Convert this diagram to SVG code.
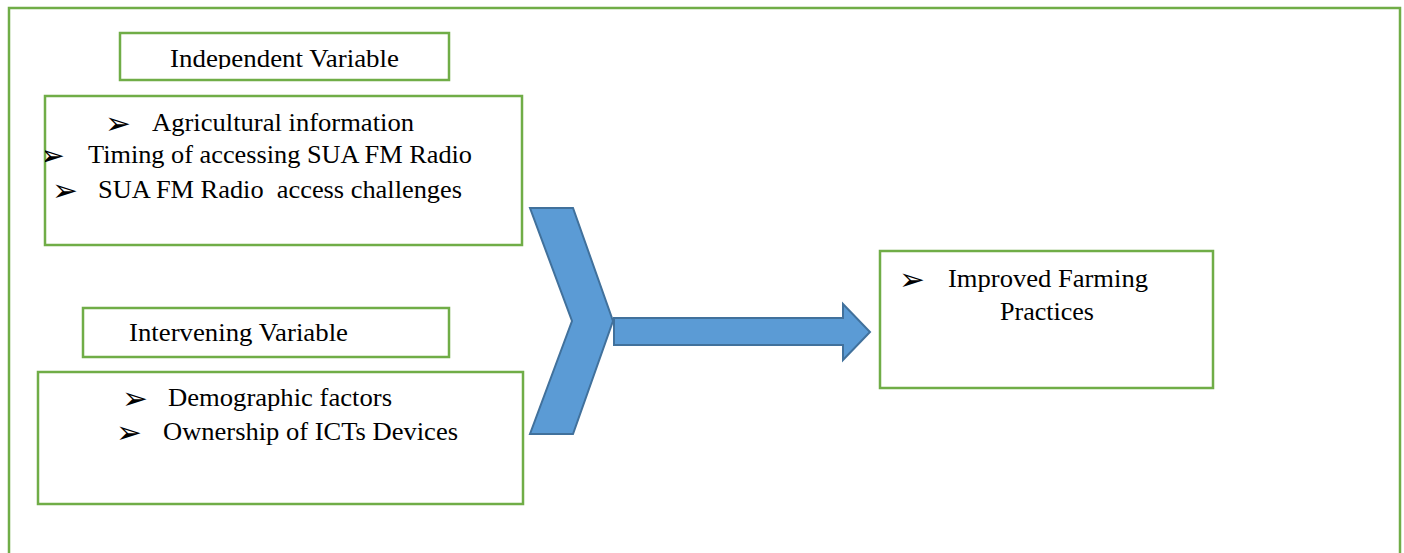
<svg xmlns="http://www.w3.org/2000/svg" width="1404" height="553" viewBox="0 0 1404 553">
<style>
.box{fill:#fff;stroke:#70AD47;stroke-width:2.5}
.frame{fill:none;stroke:#70AD47;stroke-width:2.5}
.t{font-family:"Liberation Serif","Times New Roman",serif;font-size:26px;fill:#000;white-space:pre}
.b{font-family:"DejaVu Sans",sans-serif;font-size:31px;fill:#000}
.shape{fill:#5B9BD5;stroke:#41719C;stroke-width:2}
</style>
<defs>
<clipPath id="clipInd"><rect x="120" y="34" width="328" height="35"/></clipPath>
<clipPath id="clipBox1"><rect x="45" y="97" width="476" height="148"/></clipPath>
</defs>
<rect id="frame" class="frame" x="9" y="8" width="1391" height="560"/>
<g id="independent-label">
<rect class="box" x="120" y="33" width="329" height="47"/>
<text class="t" x="170" y="67" textLength="229" lengthAdjust="spacingAndGlyphs" clip-path="url(#clipInd)">Independent Variable</text>
</g>
<g id="independent-box">
<rect class="box" x="45" y="96" width="477" height="149"/>
<g clip-path="url(#clipBox1)">
<text class="b" x="105" y="134">➢</text>
<text class="t" x="152" y="131" textLength="262" lengthAdjust="spacingAndGlyphs">Agricultural information</text>
<text class="b" x="39" y="166">➢</text>
<text class="t" x="88" y="163" textLength="384" lengthAdjust="spacingAndGlyphs">Timing of accessing SUA FM Radio</text>
<text class="b" x="52" y="201">➢</text>
<text class="t" x="98" y="198" textLength="364" lengthAdjust="spacingAndGlyphs">SUA FM Radio  access challenges</text>
</g>
</g>
<g id="intervening-label">
<rect class="box" x="83" y="308" width="366" height="49"/>
<text class="t" x="129" y="341" textLength="219" lengthAdjust="spacingAndGlyphs">Intervening Variable</text>
</g>
<g id="intervening-box">
<rect class="box" x="38" y="372" width="485" height="132"/>
<text class="b" x="122" y="409">➢</text>
<text class="t" x="168" y="406" textLength="224" lengthAdjust="spacingAndGlyphs">Demographic factors</text>
<text class="b" x="116" y="443">➢</text>
<text class="t" x="163" y="440" textLength="295" lengthAdjust="spacingAndGlyphs">Ownership of ICTs Devices</text>
</g>
<g id="connectors">
<polygon class="shape" points="530,208 573,208 613,321 573,434 530,434 572,321"/>
<polygon class="shape" points="614,318 843,318 843,304 870,332 843,360 843,345 614,345"/>
</g>
<g id="outcome-box">
<rect class="box" x="880" y="251" width="333" height="137"/>
<text class="b" x="899" y="290">➢</text>
<text class="t" x="948" y="287" textLength="200" lengthAdjust="spacingAndGlyphs">Improved Farming</text>
<text class="t" x="1000" y="320" textLength="94" lengthAdjust="spacingAndGlyphs">Practices</text>
</g>
</svg>
